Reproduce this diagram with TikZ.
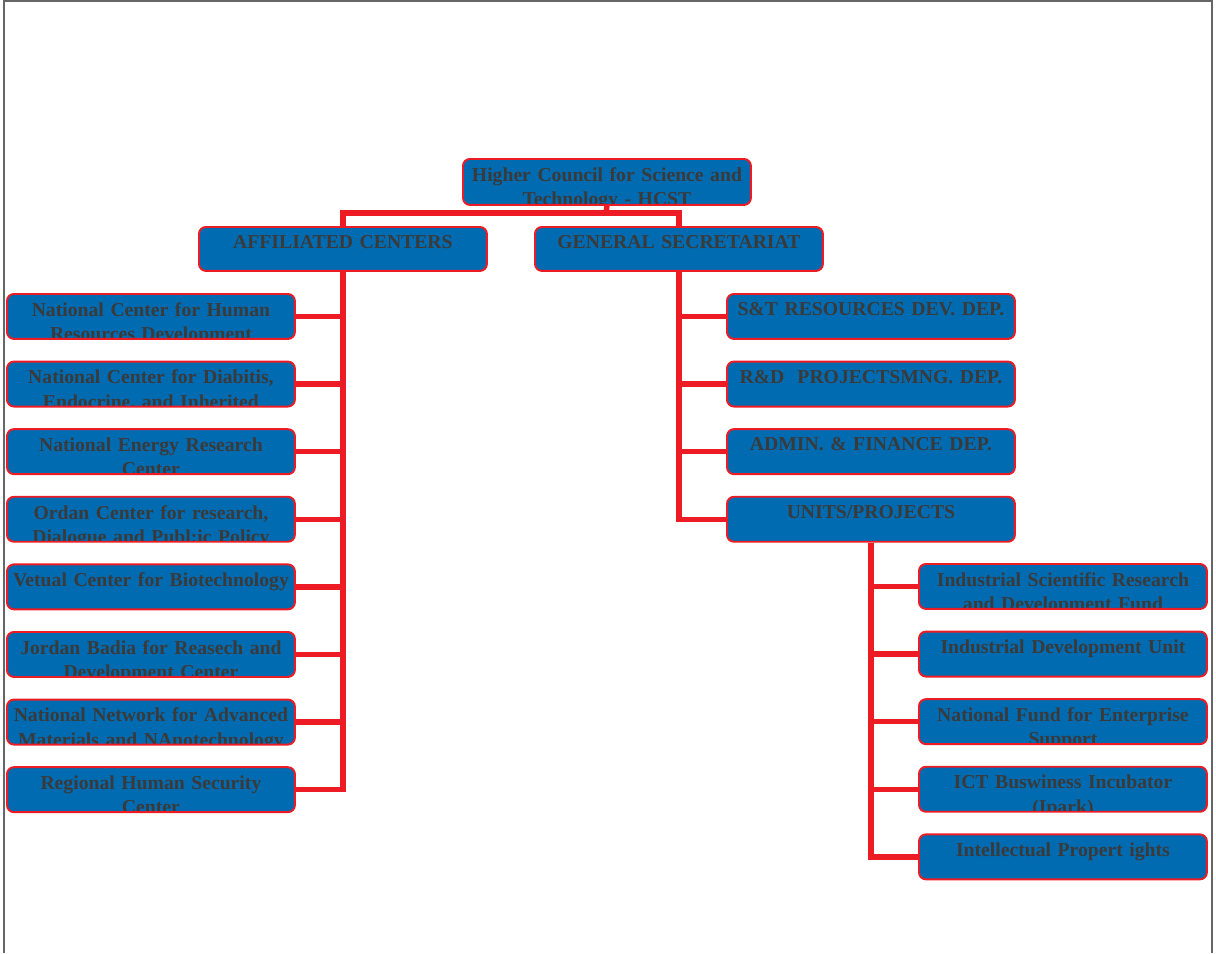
\documentclass[tikz,border=0pt]{standalone}
\usepackage{fontspec}
\setmainfont{Liberation Serif}
\definecolor{boxblue}{RGB}{0,107,177}
\definecolor{linkred}{RGB}{237,28,36}
\definecolor{textgray}{RGB}{58,58,58}

\begin{document}
\begin{tikzpicture}[x=0.02cm, y=-0.02cm,
    boxtext/.style={anchor=north, text=textgray, font=\bfseries\fontsize{11.2}{13.9}\selectfont,
      align=center, text width=5.9cm, inner sep=0pt, minimum size=0pt},
    orgbox/.style={anchor=north west, draw=linkred, line width=1.1pt, fill=boxblue,
      rounded corners=4pt, minimum width=5.76cm, minimum height=0.9cm, inner sep=0pt,
      path picture={\node[boxtext] at ([yshift=-0.15cm]path picture bounding box.north) {#1};}},
    link/.style={draw=linkred, line width=3.1pt}]

    \useasboundingbox (0,0) rectangle (1216,953);
    % Page frame
    \draw[black!60, line width=0.7pt] (4,953) -- (4,1) -- (1212,1) -- (1212,953);

    % Top levels
    \node[orgbox={Higher Council for Science and\\Technology - HCST}, minimum height=0.92cm] (hcst) at (462,158) {};
    \node[orgbox={AFFILIATED CENTERS}, minimum height=0.88cm] (aff) at (198,226) {};
    \node[orgbox={GENERAL SECRETARIAT}, minimum height=0.88cm] (gs) at (534,226) {};

    % Affiliated centers
    \foreach \t [count=\i] in {{National Center for Human\\Resources Development},
        {National Center for Diabitis,\\Endocrine, and Inherited},
        {National Energy Research\\Center},
        {Ordan Center for research,\\Dialogue and Publ:ic Policy},
        {Vetual Center for Biotechnology},
        {Jordan Badia for Reasech and\\Development Center},
        {National Network for Advanced\\Materials and NAnotechnology},
        {Regional Human Security\\Center}}
        \node[orgbox=\t] (c\i) at (6,{293+67.6*(\i-1)}) {};

    % Departments
    \foreach \t [count=\i] in {S\&T RESOURCES DEV. DEP., R\&D\ \ PROJECTSMNG. DEP.,
        ADMIN. \& FINANCE DEP., UNITS/PROJECTS}
        \node[orgbox=\t] (d\i) at (726,{293+67.6*(\i-1)}) {};

    % Units and projects
    \foreach \t [count=\i] in {{Industrial Scientific Research\\and Development Fund},
        {Industrial Development Unit},
        {National Fund for Enterprise\\Support},
        {ICT Buswiness Incubator\\(Ipark)},
        {Intellectual Propert ights}}
        \node[orgbox=\t] (u\i) at (918,{563+67.6*(\i-1)}) {};

    % Connectors
    \coordinate (bus) at (606,213);
    \draw[link] (hcst.south) -- (bus);
    \draw[link] (aff.north) |- (bus) -| (gs.north);

    \draw[link] (aff.south) |- (c8.east);
    \foreach \i in {1,...,7}
        \draw[link] (c\i.east) -- (aff.south |- c\i.east);

    \draw[link] (gs.south) |- (d4.west);
    \foreach \i in {1,2,3}
        \draw[link] (d\i.west) -- (gs.south |- d\i.west);

    \draw[link] (d4.south) |- (u5.west);
    \foreach \i in {1,...,4}
        \draw[link] (u\i.west) -- (d4.south |- u\i.west);
\end{tikzpicture}
\end{document}
